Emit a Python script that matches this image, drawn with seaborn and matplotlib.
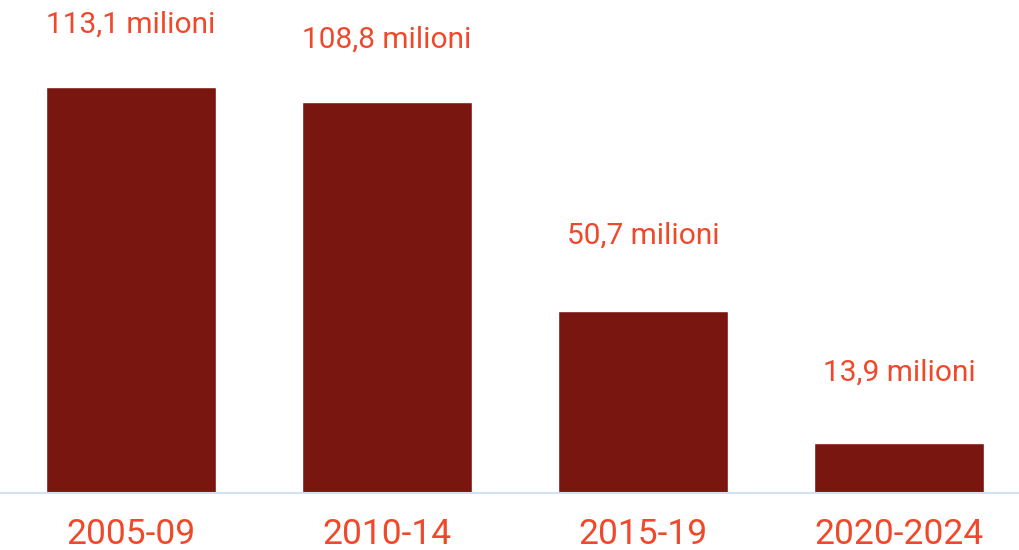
import matplotlib
matplotlib.use("Agg")
import matplotlib.pyplot as plt
import seaborn as sns
import pandas as pd

# Data
periods = ["2005-09", "2010-14", "2015-19", "2020-2024"]
values = [113.1, 108.8, 50.7, 13.9]
labels = ["113,1 milioni", "108,8 milioni", "50,7 milioni", "13,9 milioni"]

bar_color = "#7A1610"
text_color = "#F0482A"

sns.set_theme(style="white")
plt.rcParams["font.family"] = ["Roboto", "DejaVu Sans"]

df = pd.DataFrame({"period": periods, "value": values})

fig = plt.figure(figsize=(10.2, 5.5), dpi=100)
ax = fig.add_axes([0, 0.1036, 1, 0.8964])

sns.barplot(data=df, x="period", y="value", color=bar_color, saturation=1,
            width=0.664, ax=ax)

ax.set_xlim(-0.512, 3.473)
ax.set_ylim(0, 137.3)

# value labels above bars (gap in points)
gaps = [35, 35, 44, 41]
for patch, lab, gap in zip(ax.patches, labels, gaps):
    ax.annotate(lab, (patch.get_x() + patch.get_width() / 2, patch.get_height()),
                xytext=(0, gap), textcoords="offset points",
                ha="center", va="bottom", fontsize=21.5, color=text_color)

ax.set_xlabel("")
ax.set_ylabel("")
ax.set_yticks([])
ax.tick_params(axis="x", length=0, pad=18, labelsize=25.5, labelcolor=text_color)
for side in ["top", "left", "right"]:
    ax.spines[side].set_visible(False)
ax.spines["bottom"].set_color("#D3DFF5")
ax.spines["bottom"].set_linewidth(1.5)

fig.savefig("out.png", dpi=100)
